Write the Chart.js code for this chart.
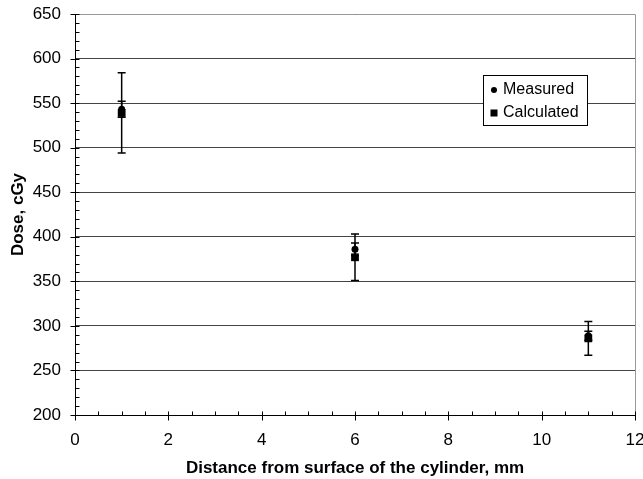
<!DOCTYPE html>
<html>
<head>
<meta charset="utf-8">
<script src="https://cdn.jsdelivr.net/npm/chart.js@4.4.1/dist/chart.umd.min.js"></script>
<style>
  html, body { margin: 0; padding: 0; background: #fff; }
  #wrap { width: 643px; height: 479px; }
</style>
</head>
<body>
<div id="wrap"><canvas id="c" width="643" height="479"></canvas></div>
<script>
// ---- data ----
const distances = [1, 6, 11];
const measured = [543, 386, 289];
const measuredErr = [9, 7, 5];
const calculated = [539, 377, 286];
const calculatedErr = [45, 26, 19];
const seriesNames = ['Measured', 'Calculated'];
const xTitle = 'Distance from surface of the cylinder, mm';
const yTitle = 'Dose, cGy';

const FONT = '"Liberation Sans", Arial, Helvetica, sans-serif';

const errorBars = {
  id: 'errorBars',
  beforeDatasetsDraw(chart) {
    const ctx = chart.ctx, xs = chart.scales.x, ys = chart.scales.y;
    ctx.save();
    ctx.strokeStyle = '#000';
    ctx.lineWidth = 1.5;
    const sets = [[measured, measuredErr], [calculated, calculatedErr]];
    sets.forEach(([vals, errs]) => {
      vals.forEach((v, i) => {
        const px = xs.getPixelForValue(distances[i]);
        const top = ys.getPixelForValue(v + errs[i]);
        const bot = ys.getPixelForValue(v - errs[i]);
        ctx.beginPath();
        ctx.moveTo(px, top); ctx.lineTo(px, bot);
        ctx.moveTo(px - 4, top); ctx.lineTo(px + 4, top);
        ctx.moveTo(px - 4, bot); ctx.lineTo(px + 4, bot);
        ctx.stroke();
      });
    });
    ctx.restore();
  }
};

const frame = {
  id: 'frame',
  afterDraw(chart) {
    const ctx = chart.ctx, xs = chart.scales.x, ys = chart.scales.y;
    const a = chart.chartArea;
    ctx.save();
    // light plot border (top, right)
    ctx.strokeStyle = '#999';
    ctx.lineWidth = 1;
    ctx.beginPath();
    ctx.moveTo(a.left, Math.round(a.top) + 0.5);
    ctx.lineTo(Math.round(a.right) + 0.5, Math.round(a.top) + 0.5);
    ctx.lineTo(Math.round(a.right) + 0.5, Math.round(a.bottom));
    ctx.stroke();
    // axes
    ctx.strokeStyle = '#000';
    const L = Math.round(a.left) + 0.5, B = Math.round(a.bottom) + 0.5;
    ctx.beginPath();
    ctx.moveTo(L, a.top); ctx.lineTo(L, B); ctx.lineTo(a.right, B);
    // y ticks
    for (let v = 200; v <= 650; v += 10) {
      const py = Math.round(ys.getPixelForValue(v)) + 0.5;
      if (v % 50 === 0) { ctx.moveTo(L - 5, py); ctx.lineTo(L + 4, py); }
      else { ctx.moveTo(L, py); ctx.lineTo(L + 4, py); }
    }
    // x ticks
    for (let v = 0; v <= 12; v += 0.5) {
      const px = Math.round(xs.getPixelForValue(v)) + 0.5;
      if (v % 2 === 0) { ctx.moveTo(px, B + 5); ctx.lineTo(px, B - 4); }
      else { ctx.moveTo(px, B); ctx.lineTo(px, B - 4); }
    }
    ctx.stroke();
    // legend
    const lx = 483.5, ly = 75.5, lw = 104, lh = 50;
    ctx.fillStyle = '#fff';
    ctx.fillRect(lx, ly, lw, lh);
    ctx.strokeStyle = '#000';
    ctx.strokeRect(lx, ly, lw, lh);
    ctx.fillStyle = '#000';
    ctx.beginPath();
    ctx.arc(494, 90, 3, 0, Math.PI * 2);
    ctx.fill();
    ctx.fillRect(490.5, 109.5, 7, 7);
    ctx.font = '16px ' + FONT;
    ctx.textBaseline = 'middle';
    ctx.textAlign = 'left';
    ctx.fillText(seriesNames[0], 503, 90);
    ctx.fillText(seriesNames[1], 503, 113);
    ctx.restore();
  }
};

new Chart(document.getElementById('c'), {
  type: 'scatter',
  data: {
    datasets: [
      {
        label: seriesNames[0],
        data: distances.map((d, i) => ({ x: d, y: measured[i] })),
        pointStyle: 'circle', pointRadius: 3.5,
        backgroundColor: '#000', borderColor: '#000', borderWidth: 0
      },
      {
        label: seriesNames[1],
        data: distances.map((d, i) => ({ x: d, y: calculated[i] })),
        pointStyle: 'rect', pointRadius: 5.5,
        backgroundColor: '#000', borderColor: '#000', borderWidth: 0
      }
    ]
  },
  options: {
    responsive: false,
    animation: false,
    devicePixelRatio: 1,
    layout: { padding: { top: 14, right: 8, left: 0, bottom: 0 } },
    plugins: { legend: { display: false }, tooltip: { enabled: false } },
    scales: {
      x: {
        type: 'linear', min: 0, max: 12,
        afterFit: s => { s.height = 64; s.paddingLeft = 0; s.paddingRight = 0; },
        grid: { display: false, drawTicks: false },
        border: { display: false },
        ticks: { stepSize: 2, padding: 15, color: '#000', font: { family: FONT, size: 17 } },
        title: { display: true, text: xTitle, color: '#000', padding: { top: 3, bottom: 0 },
                 font: { family: FONT, size: 17, weight: 'bold' } }
      },
      y: {
        type: 'linear', min: 200, max: 650,
        afterFit: s => { s.width = 75; s.paddingTop = 0; s.paddingBottom = 0; },
        grid: { display: true, color: '#444', lineWidth: 1, drawTicks: false },
        border: { display: false },
        ticks: { stepSize: 50, padding: 14, color: '#000', font: { family: FONT, size: 17 } },
        title: { display: true, text: yTitle, color: '#000', padding: { top: 8, bottom: 0 },
                 font: { family: FONT, size: 17, weight: 'bold' } }
      }
    }
  },
  plugins: [errorBars, frame]
});
</script>
</body>
</html>
